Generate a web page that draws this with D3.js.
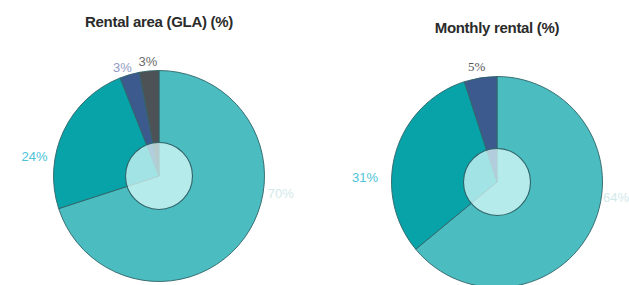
<!DOCTYPE html>
<html>
<head>
<meta charset="utf-8">
<script src="https://cdn.jsdelivr.net/npm/d3@7.9.0/dist/d3.min.js"></script>
<style>
  html, body { margin: 0; padding: 0; background: #fff; }
  svg { display: block; font-family: "Liberation Sans", Arial, sans-serif; }
</style>
</head>
<body>
<svg id="chart" width="629" height="285"></svg>
<script>
// ===== Data =====
const gla_labels = ['Retail', 'Office', 'Hotel', 'Other'];
const gla_values = [70, 24, 3, 3];
const rent_labels = ['Retail', 'Office', 'Hotel'];
const rent_values = [64, 31, 5];

// ===== Layout / style =====
const sliceColors = ['#4bbcc0', '#08a3a8', '#3d5a8f', '#4d5257'];
const labelColors = ['#d2e9ea', '#4cc3d8', '#939bc4', '#6b6b6b'];
const sansFont = '"Liberation Sans", Arial, sans-serif';
const serifFont = '"Liberation Serif", "DejaVu Serif", serif';

const charts = [
  {
    title: 'Rental area (GLA) (%)', labels: gla_labels, values: gla_values,
    cx: 159, cy: 176, titleY: 27,
    // label placement: angle (deg clockwise from top), radius
    labelPos: [[98, 123], [279, 126], [341.5, 115], [354.5, 115]],
    labelFont: [sansFont, sansFont, sansFont, sansFont],
    labelColor: labelColors
  },
  {
    title: 'Monthly rental (%)', labels: rent_labels, values: rent_values,
    cx: 497, cy: 182, titleY: 33,
    labelPos: [[97.5, 120], [272, 132], [350, 117]],
    labelFont: [sansFont, sansFont, serifFont],
    labelColor: ['#d2e9ea', '#4cc3d8', '#555']
  }
];

const outerR = 105.5;
const innerR = 33.5;

const svg = d3.select('#chart');
const pie = d3.pie().sort(null).value(d => d);
const arc = d3.arc().innerRadius(0).outerRadius(outerR);

charts.forEach(c => {
  const g = svg.append('g').attr('transform', `translate(${c.cx},${c.cy})`);
  const arcs = pie(c.values);

  g.selectAll('path.slice')
    .data(arcs)
    .join('path')
    .attr('class', 'slice')
    .attr('d', arc)
    .attr('fill', (d, i) => sliceColors[i])
    .attr('stroke', '#2f6469')
    .attr('stroke-width', 0.9)
    .attr('stroke-linejoin', 'round');

  // light overlay in the middle
  g.append('circle')
    .attr('r', innerR)
    .attr('fill', '#e4ffff')
    .attr('fill-opacity', 0.7)
    .attr('stroke', '#2f6469')
    .attr('stroke-width', 1.1);

  g.selectAll('text.lbl')
    .data(arcs)
    .join('text')
    .attr('class', 'lbl')
    .attr('transform', (d, i) => {
      const [a, r] = c.labelPos[i];
      const p = d3.pointRadial(a * Math.PI / 180, r);
      return `translate(${p[0]},${p[1]})`;
    })
    .attr('text-anchor', 'middle')
    .attr('dy', '0.36em')
    .attr('font-size', 13)
    .attr('font-family', (d, i) => c.labelFont[i])
    .attr('fill', (d, i) => c.labelColor[i])
    .text(d => `${d.data}%`);

  svg.append('text')
    .attr('x', c.cx)
    .attr('y', c.titleY)
    .attr('text-anchor', 'middle')
    .attr('font-size', 15)
    .attr('font-weight', 'bold')
    .attr('letter-spacing', '-0.3px')
    .attr('fill', '#2b2b2b')
    .text(c.title);
});
</script>
</body>
</html>
